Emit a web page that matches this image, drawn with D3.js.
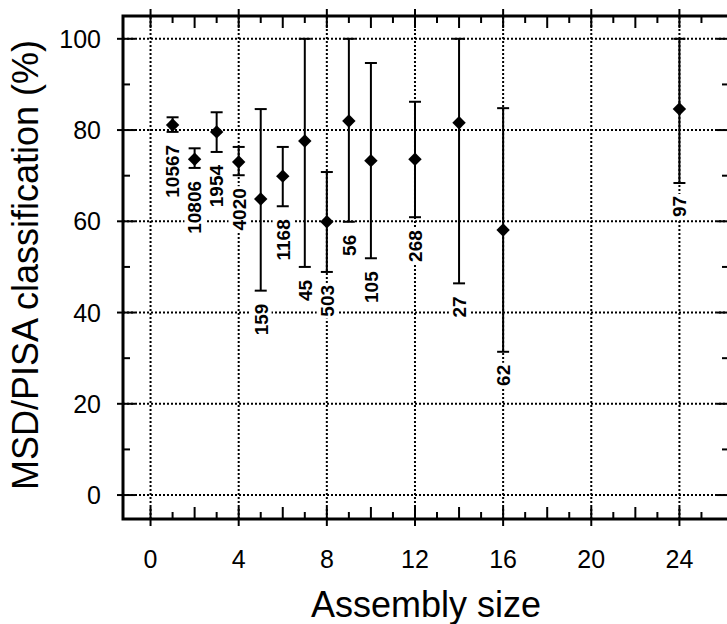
<!DOCTYPE html>
<html>
<head>
<meta charset="utf-8">
<script src="https://cdnjs.cloudflare.com/ajax/libs/d3/7.8.5/d3.min.js"></script>
<style>
body { margin: 0; background: white; }
svg text { font-family: "Liberation Sans", Arial, Helvetica, sans-serif; fill: black; }
</style>
</head>
<body>
<script>
//assembly sizes (x axis)
var sizes = [1, 2, 3, 4, 5, 6, 7, 8, 9, 10, 12, 14, 16, 24];
//mean MSD/PISA classification (%) and error bar ends
var means = [81.1, 73.6, 79.6, 73.0, 64.9, 69.9, 77.6, 59.9, 82.0, 73.3, 73.6, 81.6, 58.1, 84.6];
var lows  = [79.6, 71.7, 75.2, 70.1, 44.8, 63.3, 50.0, 48.9, 59.9, 51.9, 60.9, 46.4, 31.4, 68.4];
var highs = [82.8, 76.0, 83.9, 76.3, 84.6, 76.3, 100, 70.8, 100, 94.7, 86.2, 100, 84.8, 100];
//number of assemblies behind each point
var counts = ["10567", "10806", "1954", "4020", "159", "1168", "45", "503", "56", "105", "268", "27", "62", "97"];

//tick values
var xTicks = [0, 4, 8, 12, 16, 20, 24];
var yTicks = [0, 20, 40, 60, 80, 100];

var w = 727,
	h = 624,
	pLeft = 123,
	pRight = 729,
	pTop = 16,
	pBottom = 519;

var x = d3.scaleLinear().domain([-1.25, 26.25]).range([pLeft, pRight]);
var y = d3.scaleLinear().domain([-5.25, 105]).range([pBottom, pTop]);

var svg = d3.select("body").append("svg")
	.attr("width", w)
	.attr("height", h);

//dotted grid
var grid = svg.append("g")
	.attr("stroke", "black")
	.attr("stroke-width", 2)
	.attr("stroke-dasharray", "2,2");

grid.selectAll(".vgrid").data(xTicks).enter().append("line")
	.attr("x1", function(d){ return x(d); })
	.attr("x2", function(d){ return x(d); })
	.attr("y1", pBottom)
	.attr("y2", pTop);

grid.selectAll(".hgrid").data(yTicks).enter().append("line")
	.attr("x1", pLeft)
	.attr("x2", pRight)
	.attr("y1", function(d){ return y(d); })
	.attr("y2", function(d){ return y(d); });

//count labels with white boxes that hide the grid
var labels = svg.append("g");
sizes.forEach(function(s, i){
	var g = labels.append("g")
		.attr("transform", "translate(" + x(s) + "," + (y(lows[i]) + 13) + ") rotate(-90)");
	var t = g.append("text")
		.text(counts[i])
		.attr("text-anchor", "end")
		.attr("dy", "0.36em")
		.style("font-size", "19px")
		.style("font-weight", "bold");
	var b = t.node().getBBox();
	g.insert("rect", "text")
		.attr("x", b.x - 2)
		.attr("y", b.y)
		.attr("width", b.width + 4)
		.attr("height", b.height)
		.attr("fill", "white");
});

//error bars
var bars = svg.append("g")
	.attr("stroke", "black")
	.attr("stroke-width", 2);

sizes.forEach(function(s, i){
	bars.append("line")
		.attr("x1", x(s)).attr("x2", x(s))
		.attr("y1", y(lows[i])).attr("y2", y(highs[i]));
	[lows[i], highs[i]].forEach(function(v){
		bars.append("line")
			.attr("x1", x(s) - 6).attr("x2", x(s) + 6)
			.attr("y1", y(v)).attr("y2", y(v));
	});
});

//diamond markers
var diamond = d3.symbol().type(d3.symbolSquare).size(90);
svg.append("g").selectAll("path").data(sizes).enter().append("path")
	.attr("d", diamond)
	.attr("fill", "black")
	.attr("transform", function(d, i){ return "translate(" + x(d) + "," + y(means[i]) + ") rotate(45)"; });

//ticks on all four sides
var ticks = svg.append("g")
	.attr("stroke", "black")
	.attr("stroke-width", 2);

d3.range(0, 26).forEach(function(v){
	var inner = (v % 2 == 0) ? 12 : 7,
		outer = (v % 4 == 0) ? 7 : 0;
	ticks.append("line")
		.attr("x1", x(v)).attr("x2", x(v))
		.attr("y1", pBottom + outer).attr("y2", pBottom - inner);
	ticks.append("line")
		.attr("x1", x(v)).attr("x2", x(v))
		.attr("y1", pTop - outer).attr("y2", pTop + inner);
});

d3.range(0, 101, 10).forEach(function(v){
	var inner = (v % 20 == 0) ? 12 : 7,
		outer = (v % 20 == 0) ? 6 : 0;
	ticks.append("line")
		.attr("x1", pLeft - outer).attr("x2", pLeft + inner)
		.attr("y1", y(v)).attr("y2", y(v));
	ticks.append("line")
		.attr("x1", pRight + outer).attr("x2", pRight - inner)
		.attr("y1", y(v)).attr("y2", y(v));
});

//frame
svg.append("rect")
	.attr("x", pLeft)
	.attr("y", pTop)
	.attr("width", pRight - pLeft)
	.attr("height", pBottom - pTop)
	.attr("fill", "none")
	.attr("stroke", "black")
	.attr("stroke-width", 3);

//tick labels
svg.append("g").selectAll("text").data(xTicks).enter().append("text")
	.attr("x", function(d){ return x(d); })
	.attr("y", 568)
	.attr("text-anchor", "middle")
	.style("font-size", "25px")
	.text(function(d){ return d; });

svg.append("g").selectAll("text").data(yTicks).enter().append("text")
	.attr("x", 101)
	.attr("y", function(d){ return y(d); })
	.attr("dy", "0.36em")
	.attr("text-anchor", "end")
	.style("font-size", "25px")
	.text(function(d){ return d; });

//axis titles
svg.append("text")
	.attr("x", (pLeft + pRight) / 2)
	.attr("y", 617)
	.attr("text-anchor", "middle")
	.style("font-size", "36px")
	.text("Assembly size");

svg.append("text")
	.attr("transform", "translate(38," + 265 + ") rotate(-90)")
	.attr("text-anchor", "middle")
	.style("font-size", "36px")
	.text("MSD/PISA classification (%)");
</script>
</body>
</html>
